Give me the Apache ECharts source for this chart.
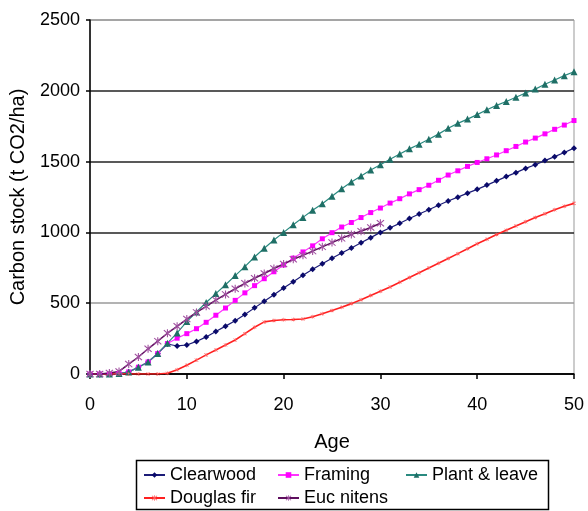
<!DOCTYPE html>
<html>
<head>
<meta charset="utf-8">
<script src="https://cdn.jsdelivr.net/npm/echarts@6/dist/echarts.min.js"></script>
<style>
  html, body { margin: 0; padding: 0; background: #fff; }
  #chart { width: 588px; height: 511px; }
</style>
</head>
<body>
<div id="chart"></div>
<script>
// Stand age in years
const ages = [0, 1, 2, 3, 4, 5, 6, 7, 8, 9, 10, 11, 12, 13, 14, 15, 16, 17, 18, 19, 20,
  21, 22, 23, 24, 25, 26, 27, 28, 29, 30, 31, 32, 33, 34, 35, 36, 37, 38, 39, 40,
  41, 42, 43, 44, 45, 46, 47, 48, 49, 50];

// Carbon stock (t CO2/ha) by regime
const clearwood = [0, 0, 0, 3, 15, 48, 85, 145, 212, 198, 205, 230, 262, 300, 338, 376, 420, 467, 514, 560, 607,
  652, 697, 740, 778, 817, 855, 890, 927, 963, 1000, 1033, 1064, 1098, 1130, 1160, 1192, 1222, 1249, 1277, 1304,
  1334, 1364, 1394, 1422, 1452, 1478, 1507, 1535, 1564, 1595];
const framing = [0, 0, 0, 3, 15, 48, 85, 145, 215, 253, 285, 320, 365, 415, 466, 520, 573, 624, 673, 722, 770,
  818, 862, 905, 955, 998, 1038, 1070, 1105, 1140, 1172, 1207, 1238, 1272, 1302, 1333, 1368, 1405, 1435, 1466, 1494,
  1520, 1547, 1577, 1607, 1638, 1666, 1696, 1728, 1758, 1790];
const plantLeave = [0, 0, 0, 3, 15, 48, 85, 145, 218, 290, 370, 438, 505, 568, 630, 695, 758, 826, 888, 946, 1000,
  1054, 1106, 1156, 1203, 1255, 1308, 1356, 1398, 1440, 1478, 1516, 1554, 1590, 1623, 1658, 1694, 1735, 1770, 1800, 1832,
  1866, 1897, 1924, 1954, 1984, 2012, 2046, 2076, 2107, 2135];
const douglasFir = [0, 0, 0, 0, 0, 0, 0, 0, 5, 30, 62, 98, 135, 170, 205, 240, 285, 330, 368, 378, 383,
  385, 388, 405, 425, 448, 472, 497, 525, 555, 585, 615, 648, 682, 715, 748, 782, 816, 850, 885, 920,
  952, 985, 1015, 1045, 1075, 1105, 1132, 1160, 1185, 1205];
const eucNitens = [0, 0, 7, 18, 70, 120, 178, 232, 288, 337, 388, 435, 478, 522, 562, 602, 640, 676, 710, 745, 777,
  810, 838, 868, 898, 928, 958, 986, 1008, 1035, 1065];

const yTicks = [0, 500, 1000, 1500, 2000, 2500];
const xTicks = [0, 10, 20, 30, 40, 50];

function pairs(vals) {
  return vals.map((v, i) => [ages[i], v]);
}

const FONT = 'Liberation Sans, Arial, sans-serif';
const asterisk = 'path://M4.4,0 L5.6,0 L5.6,10 L4.4,10 Z M0.6,1.5 L1.5,0.6 L9.4,8.5 L8.5,9.4 Z M8.5,0.6 L9.4,1.5 L1.5,9.4 L0.6,8.5 Z';

function lineSeries(name, vals, color, markerColor, symbol, size, width) {
  return {
    name: name,
    type: 'line',
    data: pairs(vals),
    symbol: symbol,
    symbolSize: size,
    showAllSymbol: true,
    lineStyle: { color: color, width: width },
    itemStyle: { color: markerColor, borderWidth: 0 },
    emphasis: { disabled: true },
    animation: false,
    z: 3
  };
}

const chart = echarts.init(document.getElementById('chart'), null, { renderer: 'canvas' });

const legendText = { fontFamily: FONT, fontSize: 18, color: '#000', lineHeight: 18 };
const legendCommon = {
  orient: 'vertical',
  top: 466,
  itemWidth: 21,
  itemHeight: 7,
  itemGap: 5,
  textStyle: legendText,
  selectedMode: false,
  padding: 0
};

chart.setOption({
  backgroundColor: '#fff',
  animation: false,
  grid: {
    left: 89, right: 14, top: 20, bottom: 137,
    show: true, borderColor: '#999', borderWidth: 1, backgroundColor: 'transparent'
  },
  xAxis: {
    type: 'value',
    min: xTicks[0], max: xTicks[xTicks.length - 1], interval: 10,
    name: 'Age',
    nameLocation: 'middle',
    nameGap: 58,
    nameTextStyle: { fontFamily: FONT, fontSize: 20, color: '#000' },
    axisLine: { lineStyle: { color: '#000', width: 1.5 } },
    axisTick: { show: true, length: 5, lineStyle: { color: '#000', width: 1.5 } },
    axisLabel: { fontFamily: FONT, fontSize: 18, color: '#000', margin: 22 },
    splitLine: { show: false }
  },
  yAxis: {
    type: 'value',
    min: yTicks[0], max: yTicks[yTicks.length - 1], interval: 500,
    name: 'Carbon stock (t CO2/ha)',
    nameLocation: 'middle',
    nameGap: 62,
    nameTextStyle: { fontFamily: FONT, fontSize: 20, color: '#000' },
    axisLine: { show: true, lineStyle: { color: '#000', width: 1.5 } },
    axisTick: { show: true, length: 4, lineStyle: { color: '#000', width: 1.5 } },
    axisLabel: {
      fontFamily: FONT, fontSize: 18, color: '#000', margin: 10,
      formatter: (v) => String(v)
    },
    splitLine: {
      show: true,
      lineStyle: { color: ['#000', '#9a9a9a', '#222', '#222', '#222', '#999'], width: 1.5 }
    }
  },
  legend: [
    Object.assign({ left: 143, data: ['Clearwood', 'Douglas fir'] }, legendCommon),
    Object.assign({ left: 277, data: ['Framing', 'Euc nitens'] }, legendCommon),
    Object.assign({ left: 405, data: ['Plant & leave'] }, legendCommon)
  ],
  graphic: [{
    type: 'rect',
    left: 134, top: 458,
    shape: { width: 412, height: 49 },
    style: { fill: 'none', stroke: '#000', lineWidth: 1.5 },
    silent: true
  }],
  series: [
    lineSeries('Clearwood', clearwood, '#1c1c78', '#0a0a6a', 'diamond', 6, 1.2),
    lineSeries('Framing', framing, '#ff33ff', '#ff00ff', 'rect', 5, 1.2),
    lineSeries('Plant & leave', plantLeave, '#2a8a80', '#1f6f66', 'triangle', 7, 1.2),
    lineSeries('Douglas fir', douglasFir, '#ff2020', '#ff6060', asterisk, 4, 1.6),
    lineSeries('Euc nitens', eucNitens, '#5e0f5e', '#a050a0', asterisk, 8, 1.5)
  ]
});
</script>
</body>
</html>
